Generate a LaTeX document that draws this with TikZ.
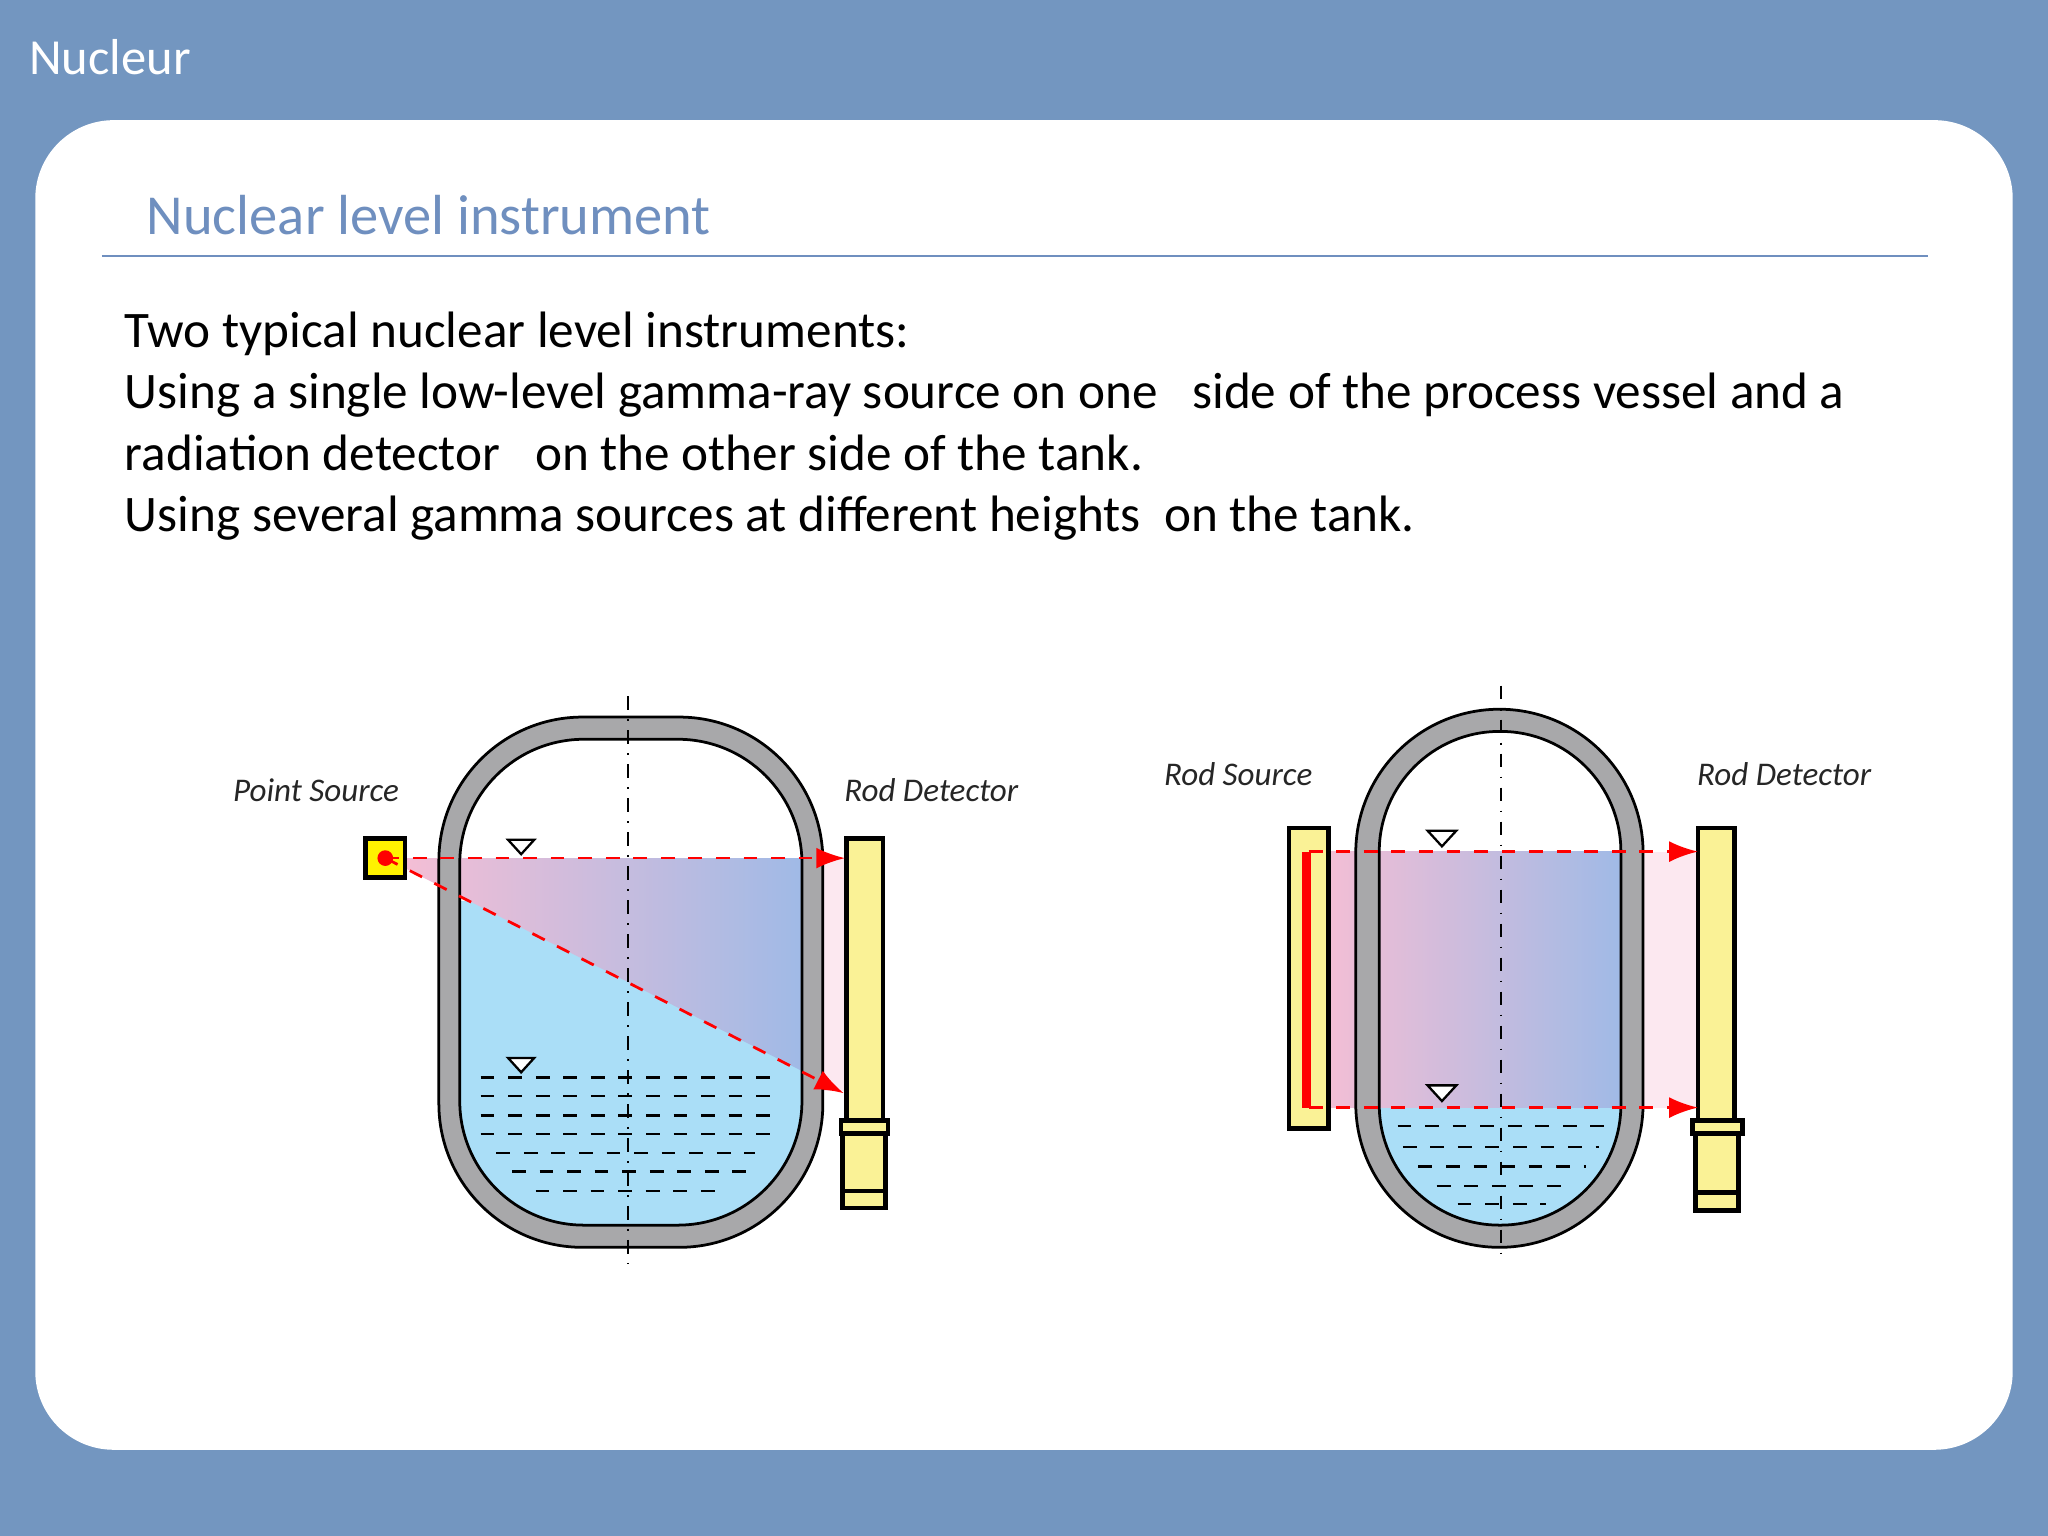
\documentclass[tikz,border=0pt]{standalone}
\usepackage{fontspec}
\setmainfont{Carlito}
\usetikzlibrary{arrows.meta}
\definecolor{frameblue}{RGB}{115,150,192}
\definecolor{titleblue}{RGB}{111,143,191}
\definecolor{liquid}{RGB}{170,222,247}
\definecolor{wallgray}{RGB}{168,168,170}
\definecolor{beampink}{RGB}{248,190,212}
\definecolor{beamblue}{RGB}{160,186,230}
\definecolor{rodyellow}{RGB}{250,242,150}
\begin{document}
\begin{tikzpicture}[x=0.01cm, y=-0.01cm,
    wall/.style={fill=wallgray, even odd rule, draw=black, line width=0.6pt},
    beam/.style={red, dashed, line width=0.6pt, -{Latex[length=2.2mm, width=1.6mm]}},
    axis/.style={black, dash dot, line width=0.4pt},
    level/.style={draw=black, fill=white, line width=0.5pt},
    rod/.style={draw=black, fill=rodyellow, line width=1pt},
    tag/.style={font=\fontsize{7.2}{9}\selectfont\itshape, text=black!85}
  ]
  % Background
  \fill[frameblue] (0,0) rectangle (1568,1176);
  \fill[white, rounded corners=0.6cm] (27,92) rectangle (1541,1110);
  \node[anchor=west, text=white, font=\fontsize{11}{13}\selectfont] (head) at (10,44) {Nucleur};
  \node[anchor=west, text=titleblue, font=\fontsize{12.3}{15}\selectfont] (title) at (100,165) {Nuclear level instrument};
  \draw[titleblue, line width=0.6pt] (78,196) -- (1476,196);
  \node[anchor=north west, align=left, font=\fontsize{11.15}{13.4}\selectfont, inner sep=0pt] (body) at (95,238)
    {Two typical nuclear level instruments:\\
     Using a single low-level gamma-ray source on one \ \ side of the process vessel and a\\
     radiation detector \ \ on the other side of the tank.\\
     Using several gamma sources at different heights \ on the tank.};

  % Left vessel
  \begin{scope}
    \clip[rounded corners=0.95cm] (352,566) rectangle (614,938);
    \fill[liquid] (352,690) rectangle (614,940);
  \end{scope}
  \shade[left color=beampink, right color=beamblue] (295,657) -- (614,657) -- (614,820) -- cycle;
  \fill[beampink!35] (630,657) rectangle (648,835);
  \path[wall] [rounded corners=1.1cm] (336,549) rectangle (630,955) [rounded corners=0.95cm] (352,566) rectangle (614,938);
  \draw[axis] (481,533) -- (481,967);
  \foreach \y/\a/\b in {825/368/596, 839/368/596, 854/368/596, 868/368/596, 883/380/578, 897/392/572, 912/410/556}
    \draw[dashed, line width=0.5pt] (\a,\y) -- (\b,\y);
  \draw[level] (389,643) -- (409,643) -- (399,654) -- cycle;
  \draw[level] (389,810) -- (409,810) -- (399,821) -- cycle;
  \node[draw=black, fill=yellow, line width=1pt, minimum size=0.3cm, inner sep=0pt] (ptsrc) at (295,657) {};
  \fill[red] (ptsrc.center) circle (6);
  \draw[rod] (648,642) rectangle (676,860);
  \draw[rod] (644,858) rectangle (680,868);
  \draw[rod] (645,868) rectangle (678,925);
  \draw[line width=1pt] (645,912) -- (678,912);
  \coordinate (ltop) at (647,657);
  \coordinate (lbot) at (646,837);
  \draw[beam] (ptsrc.center) -- (ltop);
  \draw[beam] (ptsrc.center) -- (lbot);
  \node[tag] (ptlabel) at (242,605) {Point Source};
  \node[tag] (rdlabel) at (713,605) {Rod Detector};

  % Right vessel
  \begin{scope}
    \clip[rounded corners=0.92cm] (1056,560) rectangle (1241,938);
    \fill[liquid] (1056,848) rectangle (1241,945);
  \end{scope}
  \shade[left color=beampink, right color=beamblue] (1003,652) rectangle (1241,848);
  \fill[beampink!35] (1258,652) rectangle (1300,848);
  \path[wall] [rounded corners=1.1cm] (1038,543) rectangle (1258,955) [rounded corners=0.92cm] (1056,560) rectangle (1241,938);
  \draw[axis] (1149,525) -- (1149,967);
  \foreach \y/\a/\b in {862/1070/1228, 878/1074/1224, 893/1086/1214, 908/1100/1200, 922/1116/1184}
    \draw[dashed, line width=0.5pt] (\a,\y) -- (\b,\y);
  \draw[level] (1093,636) -- (1115,636) -- (1104,648) -- cycle;
  \draw[level] (1093,831) -- (1115,831) -- (1104,843) -- cycle;
  \draw[rod] (987,634) rectangle (1017,864);
  \fill[red] (997,652) rectangle (1004,848);
  \coordinate (rsrctop) at (1002,652);
  \coordinate (rsrcbot) at (1002,848);
  \draw[rod] (1300,634) rectangle (1328,860);
  \draw[rod] (1296,858) rectangle (1334,868);
  \draw[rod] (1298,868) rectangle (1331,927);
  \draw[line width=1pt] (1298,913) -- (1331,913);
  \coordinate (rtop) at (1300,652);
  \coordinate (rbot) at (1300,848);
  \draw[beam] (rsrctop) -- (rtop);
  \draw[beam] (rsrcbot) -- (rbot);
  \node[tag] (rslabel) at (948,593) {Rod Source};
  \node[tag] (rdlabel2) at (1366,593) {Rod Detector};
\end{tikzpicture}
\end{document}
